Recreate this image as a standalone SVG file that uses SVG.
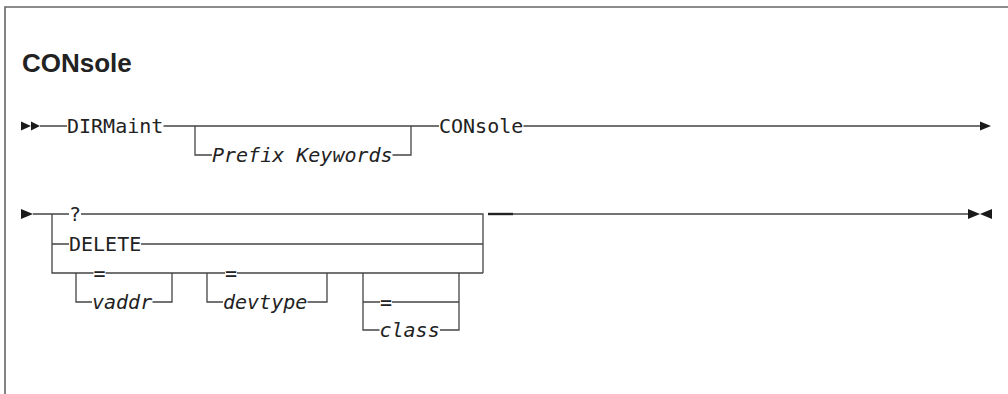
<svg xmlns="http://www.w3.org/2000/svg" width="1008" height="394" viewBox="0 0 1008 394">
<style>
.frame{fill:none;stroke:#666;stroke-width:1.6}
.ln{fill:none;stroke:#444;stroke-width:1.3}
.kw{font-family:"DejaVu Sans Mono",monospace;font-size:20px;fill:#222}
.var{font-family:"DejaVu Sans Mono",monospace;font-size:20px;font-style:italic;fill:#222}
.title{font-family:"Liberation Sans",Arial,sans-serif;font-size:26px;font-weight:bold;fill:#222}
.ar{fill:#1a1a1a}
</style>
<rect width="1008" height="394" fill="#fff"/>
<path class="frame" d="M5,394 V7 H1008"/>
<text class="title" x="22" y="72">CONsole</text>

<g id="connectors">
  <!-- row 1 -->
  <path class="ln" d="M40,126 H67 M163.5,126 H439 M523.5,126 H980"/>
  <path class="ln" d="M195,126 V155 H212 M392.5,155 H411 V126"/>
  <!-- row 2 -->
  <path class="ln" d="M33,214 H69 M81,214 H483 V273"/>
  <path class="ln" d="M52,214 V273 H93.5 M105.5,273 H225 M237,273 H483"/>
  <path class="ln" d="M52,244 H69 M141,244 H483"/>
  <!-- vaddr -->
  <path class="ln" d="M76,273 V302 H92 M152.5,302 H172 V273"/>
  <!-- devtype -->
  <path class="ln" d="M207,273 V302 H223 M307.5,302 H327 V273"/>
  <!-- class -->
  <path class="ln" d="M363,273 V330 H379.5 M440,330 H459 V273"/>
  <path class="ln" d="M363,302 H380 M392,302 H459"/>
  <!-- tail -->
  <path class="ln" d="M513,214 H968"/>
  <path fill="none" stroke="#222" stroke-width="2.4" d="M488,214 H513"/>
</g>

<g id="arrows">
  <polygon class="ar" points="21,121.5 31,126 21,130.5"/>
  <polygon class="ar" points="31,121.5 40,126 31,130.5"/>
  <polygon class="ar" points="980,121.5 991,126 980,130.5"/>
  <polygon class="ar" points="21,209 33,214 21,219"/>
  <polygon class="ar" points="968,209 980,214 968,219"/>
  <polygon class="ar" points="992,209 980,214 992,219"/>
</g>

<g id="n-dirmaint"><text class="kw" x="67" y="133">DIRMaint</text></g>
<g id="n-prefix"><text class="var" x="212" y="162">Prefix Keywords</text></g>
<g id="n-console"><text class="kw" x="439" y="133">CONsole</text></g>
<g id="n-q"><text class="kw" x="69" y="221">?</text></g>
<g id="n-delete"><text class="kw" x="69" y="251">DELETE</text></g>
<g id="n-eq1"><text class="kw" x="93.5" y="280">=</text></g>
<g id="n-vaddr"><text class="var" x="92" y="309">vaddr</text></g>
<g id="n-eq2"><text class="kw" x="225" y="280">=</text></g>
<g id="n-devtype"><text class="var" x="223" y="309">devtype</text></g>
<g id="n-eq3"><text class="kw" x="380" y="309">=</text></g>
<g id="n-class"><text class="var" x="379.5" y="337">class</text></g>
</svg>
